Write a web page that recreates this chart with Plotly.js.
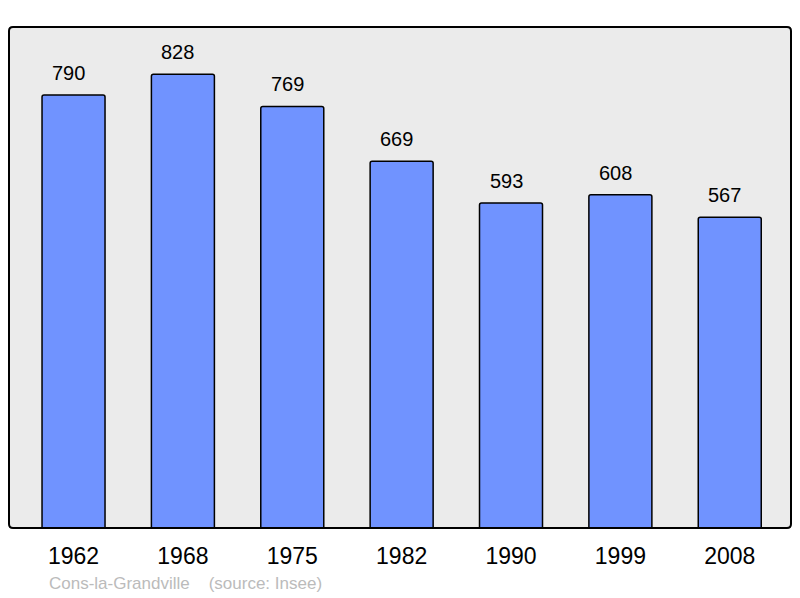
<!DOCTYPE html>
<html>
<head>
<meta charset="utf-8">
<script src="https://cdn.plot.ly/plotly-3.0.1.min.js"></script>
<style>html,body{margin:0;padding:0;background:#fff;}#chart{width:800px;height:598px;}</style>
</head>
<body>
<div id="chart"></div>
<script>
const years = ["1962", "1968", "1975", "1982", "1990", "1999", "2008"];
const population = [790, 828, 769, 669, 593, 608, 567];
const caption = "Cons-la-Grandville &nbsp;&nbsp;&nbsp;(source: Insee)";

const FONT = "Liberation Sans, Arial, sans-serif";

const trace = {
  type: "bar",
  x: years,
  y: population,
  width: 0.576,
  marker: { color: "#7093FF", line: { color: "#000", width: 1.5 }, cornerradius: 2 },
  hoverinfo: "none"
};

const annotations = years.map((yr, i) => ({
  x: i, y: population[i], xref: "x", yref: "y",
  text: String(population[i]), showarrow: false,
  xshift: -5, yshift: 22, font: { family: FONT, size: 20, color: "#000" }
}));
annotations.push({
  xref: "paper", yref: "paper", x: 0.0485, y: -0.11,
  xanchor: "left", yanchor: "middle", showarrow: false,
  text: caption, font: { family: FONT, size: 17, color: "#BBBBBB" }
});

// rounded frame around plot area (paper coords)
const W = 782, H = 501, R = 4;
const rx = R / W, ry = R / H;
const framePath = `M ${rx} 0 L ${1 - rx} 0 Q 1 0 1 ${ry} L 1 ${1 - ry} Q 1 1 ${1 - rx} 1 ` +
  `L ${rx} 1 Q 0 1 0 ${1 - ry} L 0 ${ry} Q 0 0 ${rx} 0 Z`;

const layout = {
  width: 800, height: 598,
  margin: { l: 9, r: 9, t: 27, b: 70 },
  paper_bgcolor: "#fff",
  plot_bgcolor: "#EBEBEB",
  showlegend: false,
  xaxis: {
    type: "category",
    range: [-0.59, 6.56],
    showgrid: false, zeroline: false, showline: false,
    ticks: "", ticklabelstandoff: 12,
    tickfont: { family: FONT, size: 23, color: "#000" }
  },
  yaxis: {
    range: [0, 914],
    showgrid: false, zeroline: false, showline: false,
    showticklabels: false, ticks: ""
  },
  shapes: [{
    type: "path", xref: "paper", yref: "paper", path: framePath,
    line: { color: "#000", width: 2 }, fillcolor: "rgba(0,0,0,0)", layer: "above"
  }],
  annotations: annotations
};

Plotly.newPlot("chart", [trace], layout, { displayModeBar: false, staticPlot: true });
</script>
</body>
</html>
